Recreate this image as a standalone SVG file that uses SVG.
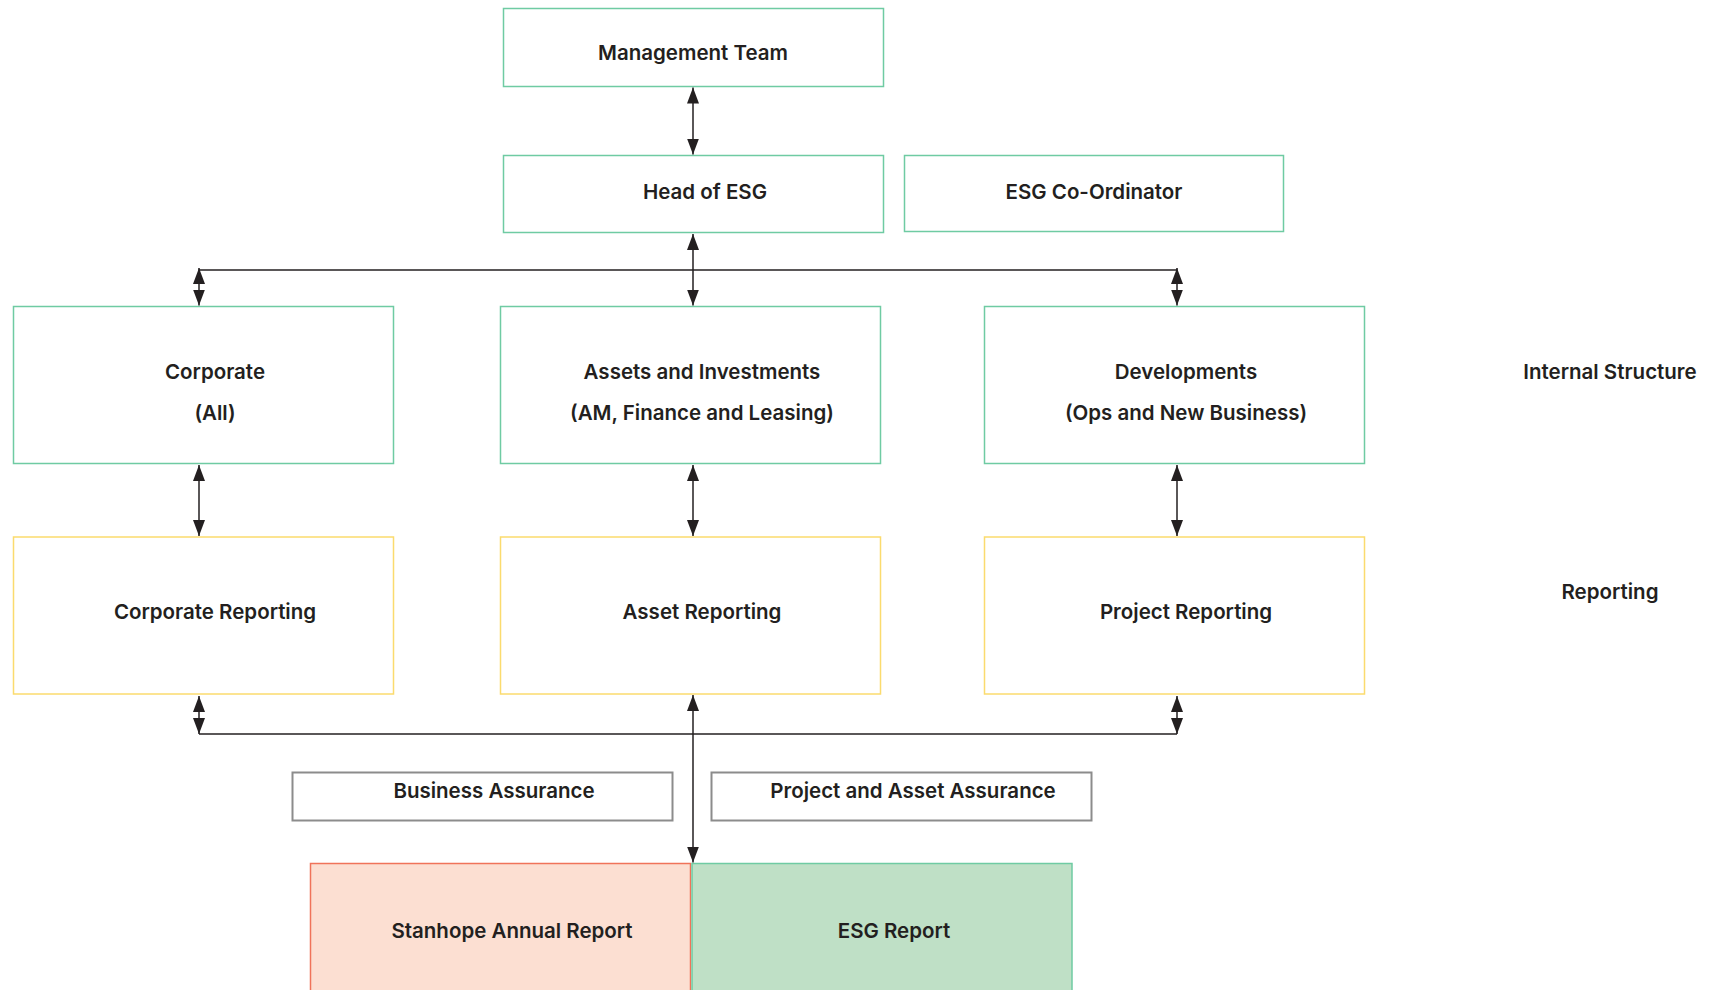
<svg xmlns="http://www.w3.org/2000/svg" width="1713" height="990" viewBox="0 0 1713 990">
<style>
.bg{fill:#ffffff}
.g{fill:#ffffff;stroke:#6fcba3;stroke-width:1.5}
.y{fill:#ffffff;stroke:#fbdb6e;stroke-width:1.5}
.gr{fill:#ffffff;stroke:#8c8c8c;stroke-width:2}
.sar{fill:#fcdfd2;stroke:#f0735a;stroke-width:1.5}
.esg{fill:#bfe0c6;stroke:#6fcba3;stroke-width:1.5}
text{font-family:Inter,"Liberation Sans",sans-serif;font-weight:600;font-size:20.5px;fill:#231f20;text-anchor:middle}
.c line{stroke:#231f20;stroke-width:1.5;fill:none}
.c line.d{marker-start:url(#ah);marker-end:url(#ah)}
</style>
<defs>
<marker id="ah" markerUnits="userSpaceOnUse" markerWidth="16" markerHeight="12" viewBox="0 0 16 12" refX="16" refY="6" orient="auto-start-reverse">
<path d="M0,0 L16,6 L0,12 Z" fill="#231f20"/>
</marker>
</defs>
<rect class="bg" x="0" y="0" width="1713" height="990"/>
<g id="connectors" class="c">
<line x1="199" y1="270" x2="1177" y2="270"/>
<line x1="199" y1="734" x2="1177" y2="734"/>
</g>
<g id="n-management"><rect class="g" x="503.5" y="8.5" width="380" height="78"/><text x="693" y="60">Management Team</text></g>
<g id="n-head"><rect class="g" x="503.5" y="155.5" width="380" height="77"/><text x="705" y="199">Head of ESG</text></g>
<g id="n-coord"><rect class="g" x="904.5" y="155.5" width="379" height="76"/><text x="1094" y="199">ESG Co-Ordinator</text></g>
<g id="n-corporate"><rect class="g" x="13.5" y="306.5" width="380" height="157"/><text x="215" y="379">Corporate</text><text x="215" y="420">(All)</text></g>
<g id="n-assets"><rect class="g" x="500.5" y="306.5" width="380" height="157"/><text x="702" y="379">Assets and Investments</text><text x="702" y="420">(AM, Finance and Leasing)</text></g>
<g id="n-dev"><rect class="g" x="984.5" y="306.5" width="380" height="157"/><text x="1186" y="379">Developments</text><text x="1186" y="420">(Ops and New Business)</text></g>
<g id="n-corprep"><rect class="y" x="13.5" y="537" width="380" height="157"/><text x="215" y="619">Corporate Reporting</text></g>
<g id="n-assetrep"><rect class="y" x="500.5" y="537" width="380" height="157"/><text x="702" y="619">Asset Reporting</text></g>
<g id="n-projrep"><rect class="y" x="984.5" y="537" width="380" height="157"/><text x="1186" y="619">Project Reporting</text></g>
<g id="n-business"><rect class="gr" x="292.5" y="772.5" width="380" height="48"/><text x="494" y="798">Business Assurance</text></g>
<g id="n-paa"><rect class="gr" x="711.5" y="772.5" width="380" height="48"/><text x="913" y="798">Project and Asset Assurance</text></g>
<g id="n-stanhope"><rect class="sar" x="310.5" y="863.5" width="380" height="140"/><text x="512" y="938">Stanhope Annual Report</text></g>
<g id="n-esgreport"><rect class="esg" x="692" y="863.5" width="380" height="140"/><text x="894" y="938">ESG Report</text></g>
<g id="l-internal"><text x="1610" y="379">Internal Structure</text></g>
<g id="l-reporting"><text x="1610" y="599">Reporting</text></g>
<g id="connectors-arrows" class="c">
<line class="d" x1="693" y1="87.5" x2="693" y2="154.5"/>
<line class="d" x1="693" y1="234" x2="693" y2="305.5"/>
<line class="d" x1="199" y1="268" x2="199" y2="305.5"/>
<line class="d" x1="1177" y1="268" x2="1177" y2="305.5"/>
<line class="d" x1="199" y1="465" x2="199" y2="536"/>
<line class="d" x1="693" y1="465" x2="693" y2="536"/>
<line class="d" x1="1177" y1="465" x2="1177" y2="536"/>
<line class="d" x1="199" y1="696" x2="199" y2="734"/>
<line class="d" x1="1177" y1="696" x2="1177" y2="734"/>
<line class="d" x1="693" y1="695" x2="693" y2="862.5"/>
</g>
</svg>
